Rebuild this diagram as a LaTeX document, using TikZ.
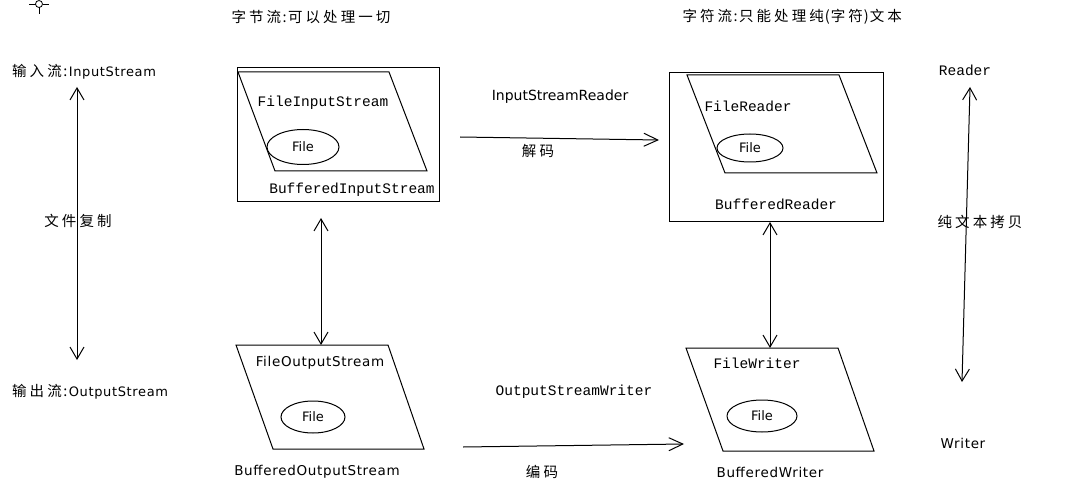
\documentclass[tikz,border=0pt]{standalone}
\usepackage{fontspec}
\setmainfont{DejaVu Sans}
\newfontfamily\cjk[LetterSpace=21]{Noto Sans CJK SC}
\newfontfamily\widesans[LetterSpace=5]{DejaVu Sans}
\newfontfamily\monofont{Liberation Mono}
\usetikzlibrary{arrows.meta,shapes.geometric}

% half-width punctuation inside Chinese text
\newcommand{\hw}[1]{\makebox[7pt]{#1}}

\tikzset{
  cn/.style={font=\cjk\fontsize{14.5}{15}\selectfont},
  mono/.style={font=\monofont\fontsize{14.5}{15}\selectfont},
  sans/.style={font=\fontsize{14}{15}\selectfont},
  wide/.style={font=\widesans\fontsize{13.5}{15}\selectfont},
  frame/.style={draw, line width=1pt},
  filenode/.style={draw, ellipse, line width=1pt, inner sep=0pt, font=\fontsize{13}{13}\selectfont},
  twoway/.style={line width=1pt, {Straight Barb[length=12pt,width=14pt]}-{Straight Barb[length=12pt,width=14pt]}},
  oneway/.style={line width=1pt, -{Straight Barb[length=14pt,width=13pt]}},
}

\begin{document}
\begin{tikzpicture}[x=1pt, y=-1pt]
\useasboundingbox (0,0) rectangle (1091,486);

% cursor mark
\draw[line width=0.8pt] (29,4) -- (35.5,4) (42.5,4) -- (49,4) (39,7.5) -- (39,14);
\draw[line width=0.8pt] (39,4) circle (3.5);

% headings
\node[cn, anchor=west] (bytes) at (228,17) {字节流\hw{:}可以处理一切};
\node[cn, anchor=west] (chars) at (679,17) {字符流\hw{:}只能处理纯\hw{(}字符\hw{)}文本};

% left column
\node[anchor=west, inner sep=0pt] (instream) at (12,72) {{\cjk\fontsize{14.5}{15}\selectfont 输入流\hw{:}}{\widesans\fontsize{13}{15}\selectfont InputStream}};
\node[anchor=west, inner sep=0pt] (outstream) at (12,392) {{\cjk\fontsize{14.5}{15}\selectfont 输出流\hw{:}}{\widesans\fontsize{13}{15}\selectfont OutputStream}};
\coordinate (inTip) at (77,87);
\coordinate (outTip) at (77,360);
\draw[twoway] (inTip) -- (outTip);
\node[cn] (copy) at (78,221) {文件复制};

% byte streams
\node[frame, minimum width=202, minimum height=134] (bis) at (338,135) {};
\draw[frame] (238,72) -- (389,72) -- (427,171) -- (275,171) -- cycle;
\node[mono] (fis) at (323,103) {FileInputStream};
\node[filenode, minimum width=72, minimum height=35] (file1) at (303,147) {File};
\node[mono] (bislabel) at (352,190) {BufferedInputStream};

\draw[frame] (236,345) -- (388,345) -- (424,449) -- (273,449) -- cycle;
\node[wide] (fos) at (320,363) {FileOutputStream};
\node[filenode, minimum width=64, minimum height=32] (file3) at (313,417) {File};
\node[wide] (bos) at (317,472) {BufferedOutputStream};

\coordinate (bisDown) at (321,218);
\coordinate (fosTop) at (321,345);
\draw[twoway] (bisDown) -- (fosTop);

% char streams
\node[frame, minimum width=214, minimum height=149] (br) at (776,147.5) {};
\draw[frame] (687,75) -- (839,75) -- (877,173) -- (725,173) -- cycle;
\node[mono] (fr) at (748,106) {FileReader};
\node[filenode, minimum width=66, minimum height=28] (file2) at (750,148) {File};
\node[mono] (brlabel) at (776,204) {BufferedReader};

\draw[frame] (686,348) -- (838,348) -- (874,451) -- (723,451) -- cycle;
\node[mono] (fw) at (757,363) {FileWriter};
\node[filenode, minimum width=70, minimum height=32] (file4) at (762,416) {File};
\node[wide] (bw) at (770,472) {BufferedWriter};

\coordinate (brDown) at (770,222);
\coordinate (fwTop) at (770,348);
\draw[twoway] (brDown) -- (fwTop);

% conversion
\node[sans] (isr) at (560,97) {InputStreamReader};
\coordinate (decFrom) at (460,137);
\coordinate (decTo) at (659,140);
\draw[oneway] (decFrom) -- (decTo);
\node[cn] (decode) at (538,151) {解码};

\node[mono] (osw) at (574,392) {OutputStreamWriter};
\coordinate (encFrom) at (463,447);
\coordinate (encTo) at (684,444);
\draw[oneway] (encFrom) -- (encTo);
\node[cn] (encode) at (542,472) {编码};

% right column
\node[mono] (reader) at (965,70) {Reader};
\node[wide] (writer) at (963,443) {Writer};
\coordinate (rTip) at (970,87);
\coordinate (wTip) at (962,382);
\draw[twoway] (rTip) -- (wTip);
\node[cn] (textcopy) at (980,222) {纯文本拷贝};
\end{tikzpicture}
\end{document}
